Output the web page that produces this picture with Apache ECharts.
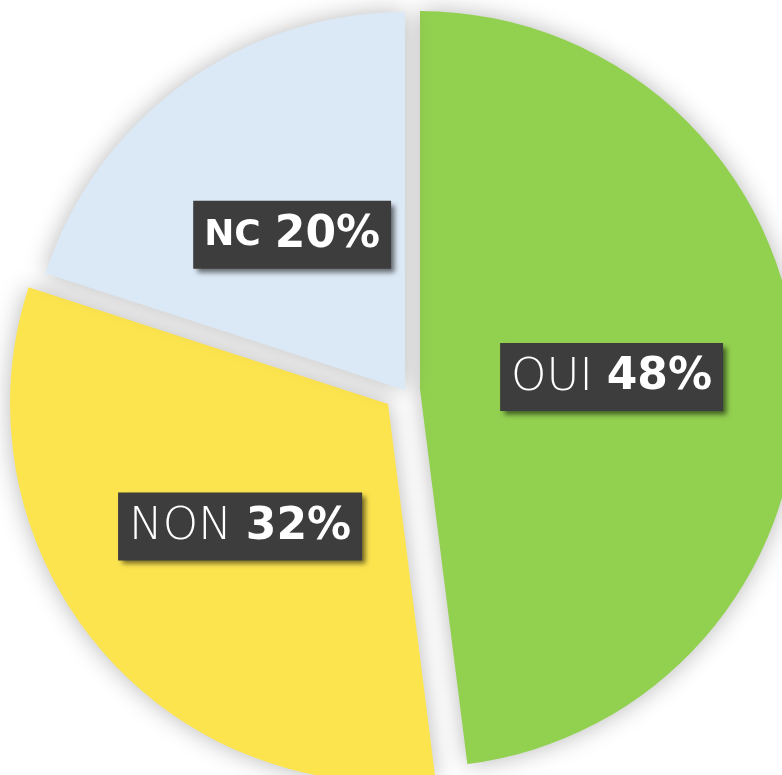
<!DOCTYPE html>
<html style="height: 100%">
<head>
<meta charset="utf-8">
<script type="text/javascript" src="https://cdn.jsdelivr.net/npm/echarts@6/dist/echarts.min.js"></script>
</head>
<body style="height: 100%; margin: 0; background: #fff">
	<div id="container" style="width: 782px; height: 775px;"></div>
	<script type="text/javascript">
		// donnees du graphique
		var names = ['OUI', 'NON', 'NC'];
		var values = [48, 32, 20];
		var colors = ['#92d050', '#fce44f', '#dbe8f5'];
		// eclatement de chaque part (px)
		var explode = [15, 22, 0];
		var nameBold = [false, false, true];

		var dom = document.getElementById("container");
		var myChart = echarts.init(dom);
		var base = [405, 390];
		var total = values.reduce(function (a, b) { return a + b; }, 0);

		var series = [];
		var acc = 0;
		for (var i = 0; i < names.length; i++) {
			var mid = (acc + values[i] / 2) / total * Math.PI * 2;
			acc += values[i];
			var cx = base[0] + Math.sin(mid) * explode[i];
			var cy = base[1] - Math.cos(mid) * explode[i];
			var data = [];
			for (var j = 0; j < names.length; j++) {
				var own = (j === i);
				data.push({
					name: names[j],
					value: values[j],
					itemStyle: {
						color: own ? colors[j] : 'rgba(0,0,0,0)',
						shadowBlur: own ? 24 : 0,
						shadowColor: 'rgba(0,0,0,0.28)'
					},
					label: { show: own }
				});
			}
			series.push({
				type: 'pie',
				radius: 378,
				center: [cx, cy],
				startAngle: 90,
				clockwise: true,
				silent: true,
				animation: false,
				avoidLabelOverlap: false,
				label: {
					position: 'inside',
					formatter: nameBold[i] ? '{b|{b}}{sp| }{p|{c}%}' : '{n|{b}}{sp| }{p|{c}%}',
					backgroundColor: '#3d3d3d',
					padding: [8, 11, 6, 11],
					shadowColor: 'rgba(0,0,0,0.55)',
					shadowBlur: 5,
					shadowOffsetX: 4,
					shadowOffsetY: 4,
					rich: {
						n: { fontFamily: 'DejaVu Sans', fontWeight: 200, fontSize: 45, color: '#fff', lineHeight: 54 },
						b: { fontFamily: 'DejaVu Sans', fontWeight: 'bold', fontSize: 36, color: '#fff', lineHeight: 54 },
						sp: { fontFamily: 'DejaVu Sans', fontSize: 28, color: '#fff', lineHeight: 54, width: 14 },
						p: { fontFamily: 'DejaVu Sans', fontWeight: 'bold', fontSize: 44, color: '#fff', lineHeight: 54 }
					}
				},
				labelLine: { show: false },
				data: data
			});
		}

		var option = { series: series };
		myChart.setOption(option, true);
	</script>
</body>
</html>
